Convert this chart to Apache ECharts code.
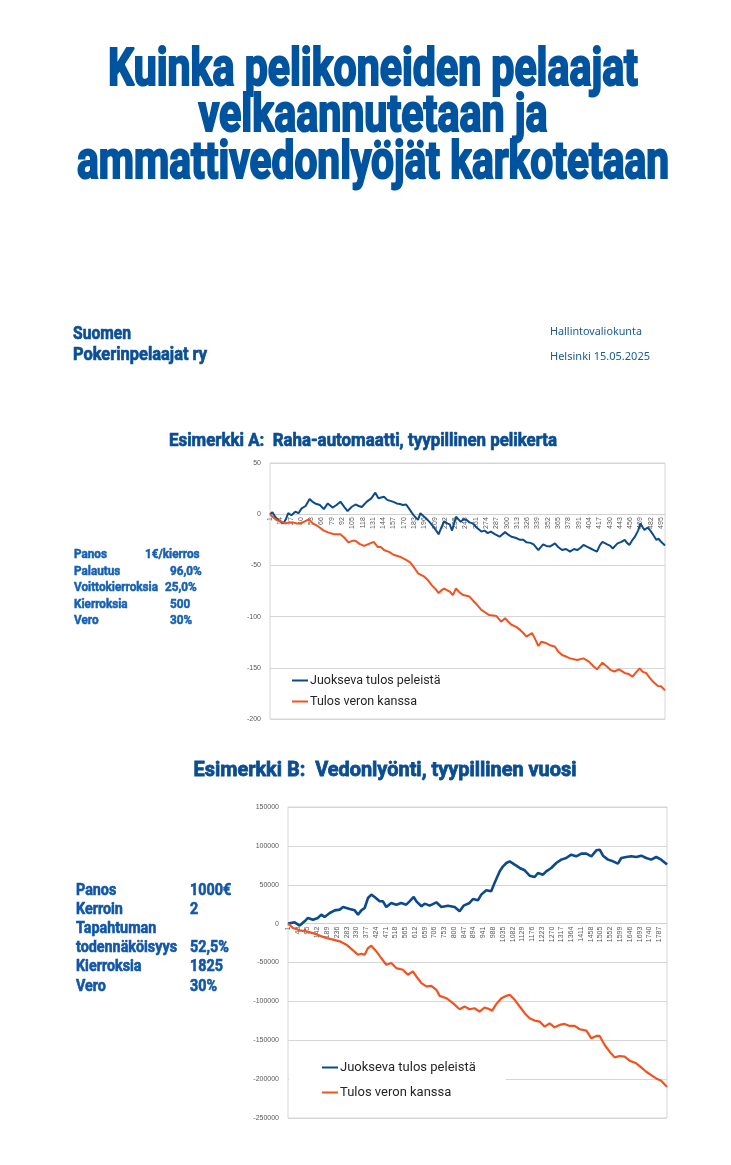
<!DOCTYPE html>
<html><head><meta charset="utf-8">
<script src="https://cdn.jsdelivr.net/npm/echarts@6/dist/echarts.min.js"></script>
<style>html,body{margin:0;padding:0;background:#fff}#c{width:731px;height:1165px}</style>
</head><body><div id="c"></div>
<script>
// ---------- DATA ----------
const titleLines = ['Kuinka pelikoneiden pelaajat', 'velkaannutetaan ja', 'ammattivedonlyöjät karkotetaan'];
const orgLines = ['Suomen', 'Pokerinpelaajat ry'];
const metaLines = ['Hallintovaliokunta', 'Helsinki 15.05.2025'];
const chartTitleA = 'Esimerkki A:  Raha-automaatti, tyypillinen pelikerta';
const chartTitleB = 'Esimerkki B:  Vedonlyönti, tyypillinen vuosi';
const paramLabelsA = ['Panos', 'Palautus', 'Voittokierroksia', 'Kierroksia', 'Vero'];
const paramValuesA = ['1€/kierros', '96,0%', '25,0%', '500', '30%'];
const paramLabelsB = ['Panos', 'Kerroin', 'Tapahtuman', 'todennäköisyys', 'Kierroksia', 'Vero'];
const paramValuesB = ['1000€', '2', '', '52,5%', '1825', '30%'];
const seriesNames = ['Juokseva tulos peleistä', 'Tulos veron kanssa'];

const roundsA = 500;
const roundsB = 1825;
const categoriesA = Array.from({length: roundsA}, (_, i) => String(i + 1));
const categoriesB = Array.from({length: roundsB}, (_, i) => String(i + 1));
const yTicksA = {min: -200, max: 50, interval: 50};
const yTicksB = {min: -250000, max: 150000, interval: 50000};

// [round, value]
const runningA = [[1,0],[4,2],[8,-3],[12,-6],[18,-9],[21,-5],[24,1],[28,-1],[33,2.5],[37,1],[41,5.7],[46,8],[51,14.8],[55,12],[58,10.5],[64,9],[69,5],[74,10.5],[80,6.5],[85,9],[90,12.2],[95,7],[99,3],[104,7],[109,9.5],[113,8],[117,7],[123,12],[129,15.5],[134,21],[138,15.5],[145,17],[149,14],[153,13],[157,12],[161,10.5],[165,10],[169,9],[173,9.5],[178,4],[182,-0.6],[188,-5.5],[191,1],[195,-2],[198,-4],[203,-8],[207,-12],[211,-16],[214,-19.6],[218,-12],[221,-7],[225,-9],[228,-10],[231,-16],[236,-2.5],[242,-7.5],[245,-5],[249,-5.5],[253,-8],[257,-9],[262,-13],[268,-17],[272,-16],[276,-18.5],[280,-17],[285,-19.5],[291,-22],[298,-17.5],[302,-20],[306,-22],[311,-23],[317,-25],[321,-25],[325,-27.5],[330,-28],[334,-29.5],[340,-35],[346,-29.5],[350,-31],[355,-31.5],[361,-28.5],[365,-32],[370,-35],[375,-34],[380,-36.5],[385,-34],[389,-35],[393,-33],[397,-30],[402,-32],[406,-33.5],[410,-35],[414,-36.5],[418,-30],[421,-27],[427,-29.5],[431,-31],[434,-33.5],[440,-28.5],[445,-27],[449,-25],[452,-28],[455,-30],[459,-25],[462,-22],[466,-16],[469,-9],[472,-13],[474,-15.5],[478,-13],[481,-15.5],[485,-20],[489,-25],[492,-24],[495,-27],[500,-30.5]];
const taxedA = [[1,0],[5,-3],[10,-6],[15,-7],[20,-9],[25,-8],[30,-8],[35,-9],[40,-9],[45,-7],[50,-5],[55,-9],[62,-12],[69,-16],[75,-18],[82,-19.5],[90,-19.5],[95,-23],[100,-27.5],[105,-26],[109,-26],[114,-29],[120,-31],[126,-29],[132,-27],[137,-32],[141,-32],[145,-35],[152,-37],[157,-39.6],[165,-41.5],[173,-44.7],[178,-47],[182,-51],[188,-57.7],[190,-56],[196,-61],[200,-64],[205,-69],[210,-73],[214,-77],[218,-74],[221,-72.6],[228,-75.5],[232,-79],[236,-72.6],[240,-76],[245,-79],[253,-80.4],[257,-84],[262,-88],[268,-93.5],[273,-96],[278,-98.5],[283,-99],[287,-99.5],[293,-105],[298,-101.6],[302,-105],[306,-108],[312,-110],[317,-113],[321,-116],[325,-119.6],[332,-116],[336,-122],[340,-128.7],[344,-124.5],[350,-126],[355,-128],[361,-129.5],[365,-134],[370,-137.5],[375,-139],[380,-140.8],[389,-142.4],[397,-140.8],[404,-144],[409,-148],[414,-151.5],[421,-145],[427,-149],[431,-152],[436,-153.6],[442,-151.5],[449,-155],[454,-156],[459,-158.7],[464,-154],[468,-150.5],[472,-154],[476,-155],[481,-160],[485,-163.6],[491,-167.8],[495,-168],[500,-172]];
const runningB = [[1,0],[6,-1300],[33,1700],[57,-2500],[81,3000],[97,7300],[121,5100],[145,7300],[161,11600],[177,8600],[202,13700],[226,17000],[250,18000],[266,21400],[298,18900],[322,17100],[338,11600],[354,17100],[370,20100],[386,33000],[402,37300],[418,34300],[442,28700],[458,28700],[474,21400],[498,26600],[522,24400],[546,26600],[570,24400],[586,28700],[606,34300],[619,28700],[643,22300],[659,25700],[683,23100],[715,27400],[739,21400],[771,23100],[803,21400],[827,15900],[846,23100],[875,26600],[891,31700],[915,30000],[931,37300],[955,42900],[979,41600],[995,52300],[1020,67300],[1036,73700],[1052,78000],[1068,80100],[1092,75800],[1116,71600],[1140,68600],[1164,61700],[1188,60000],[1204,65100],[1228,63000],[1244,67300],[1268,71600],[1292,78000],[1316,82300],[1340,84400],[1364,88700],[1388,86600],[1413,90000],[1437,90000],[1461,86600],[1485,94300],[1501,95100],[1517,87400],[1541,82300],[1565,80100],[1589,77100],[1605,84400],[1629,85700],[1653,86600],[1677,85700],[1701,87400],[1725,84400],[1749,82300],[1773,85700],[1797,82300],[1821,77100],[1825,76000]];
const taxedB = [[1,0],[25,-5600],[57,-8600],[89,-10000],[129,-12900],[153,-15400],[185,-18500],[218,-20500],[250,-22800],[282,-27100],[314,-34400],[338,-40000],[354,-38700],[370,-40000],[386,-31400],[402,-28400],[426,-35700],[450,-44300],[474,-52900],[498,-50700],[522,-57200],[554,-59300],[578,-65800],[602,-61500],[619,-68000],[643,-76600],[667,-80800],[691,-80000],[715,-85100],[731,-92900],[763,-95900],[795,-102300],[827,-110100],[851,-106600],[875,-110100],[899,-108800],[923,-113100],[947,-107900],[971,-110100],[983,-112200],[1004,-103200],[1028,-95900],[1052,-92900],[1068,-91600],[1092,-98000],[1116,-106600],[1140,-115200],[1164,-121700],[1188,-124700],[1212,-126000],[1236,-132500],[1260,-128200],[1284,-133300],[1308,-130300],[1332,-129000],[1357,-131600],[1381,-131600],[1405,-135900],[1437,-137600],[1461,-147500],[1485,-144500],[1501,-144500],[1525,-156100],[1549,-164700],[1573,-172000],[1597,-170300],[1621,-171100],[1645,-176300],[1677,-179700],[1701,-184900],[1725,-190500],[1749,-194800],[1773,-199100],[1797,-202100],[1821,-209000],[1825,-210000]];

// ---------- STYLE / LAYOUT ----------
const BLUE = '#0d4a8c', ORANGE = '#f2521f';
const HEAVY = 'Roboto, "DejaVu Sans", sans-serif';
const mctx = document.createElement('canvas').getContext('2d');
function fitScale(text, font, w) { mctx.font = font; const m = mctx.measureText(text).width; return m ? w / m : 1; }
function heavyText(text, x, y, size, opt) {
  const font = 'bold ' + size + 'px ' + HEAVY;
  const s = opt.scale != null ? opt.scale : (opt.w ? fitScale(text, font, opt.w) : 1);
  const align = opt.align || 'left';
  return { type: 'text', x: x, y: y, scaleX: s, scaleY: opt.sy || 1, z: 10,
    style: { text: text, font: font, fill: opt.color, stroke: opt.stroke ? opt.color : null, lineWidth: opt.stroke || 0,
      lineJoin: 'round', align: align, textAlign: align, verticalAlign: 'middle', textVerticalAlign: 'middle' } };
}
function plainText(text, x, y, size, w, color) {
  const font = size + 'px "Noto Sans", sans-serif';
  return { type: 'text', x: x, y: y, scaleX: fitScale(text, font, w), z: 10,
    style: { text: text, font: font, fill: color, align: 'left', textAlign: 'left', verticalAlign: 'middle', textVerticalAlign: 'middle' } };
}
const graphics = [];
const titleY = [72, 118, 165], titleW = [530, 349, 592];
titleLines.forEach((t, i) => graphics.push(heavyText(t, 373, titleY[i], 50, {w: titleW[i], align: 'center', color: '#00549f', stroke: 2, sy: 1.05})));
const orgY = [334, 355], orgW = [58, 134];
orgLines.forEach((t, i) => graphics.push(heavyText(t, 73, orgY[i], 19, {w: orgW[i], color: '#0b4f94', stroke: 0.7})));
const metaY = [332, 357], metaW = [92, 100];
metaLines.forEach((t, i) => graphics.push(plainText(t, 550, metaY[i], 11, metaW[i], '#1a5a96')));
graphics.push(heavyText(chartTitleA, 363, 441, 18.5, {w: 388, align: 'center', color: '#0b4d92', stroke: 0.7}));
graphics.push(heavyText(chartTitleB, 385, 771, 20.5, {w: 383, align: 'center', color: '#0b4d92', stroke: 0.8}));
const scaleA = fitScale(paramLabelsA[2], 'bold 12.5px ' + HEAVY, 84);
const pAY = [555, 571.5, 588, 604.5, 620.5], pAVX = [145, 170, 165, 170, 170];
paramLabelsA.forEach((t, i) => {
  graphics.push(heavyText(t, 74, pAY[i], 12.5, {scale: scaleA, color: '#1660b3', stroke: 0.5}));
  graphics.push(heavyText(paramValuesA[i], pAVX[i], pAY[i], 12.5, {scale: scaleA, color: '#1660b3', stroke: 0.5}));
});
const scaleB = fitScale(paramLabelsB[3], 'bold 16px ' + HEAVY, 101);
const pBY = [891, 910, 929, 948, 967, 987];
paramLabelsB.forEach((t, i) => {
  graphics.push(heavyText(t, 76, pBY[i], 16, {scale: scaleB, color: '#1156a8', stroke: 0.6}));
  if (paramValuesB[i]) graphics.push(heavyText(paramValuesB[i], 190, pBY[i], 16, {scale: scaleB, color: '#1156a8', stroke: 0.6}));
});

const gridA = {left: 270, top: 463, width: 395, height: 256};
const gridB = {left: 288, top: 807, width: 379, height: 311};
const axisLabelFont = {fontFamily: '"Liberation Sans", Arial, sans-serif', fontSize: 7, color: '#595959'};
// place the category axis where the value axis crosses zero
function zeroOffset(g, t) { return -g.height * (0 - t.min) / (t.max - t.min); }
function xAxisFor(gi, cats, every, off) {
  return { type: 'category', gridIndex: gi, data: cats, boundaryGap: false, position: 'bottom', offset: off,
    axisLine: {show: true, onZero: false, lineStyle: {color: '#d0d0d0', width: 1}},
    axisTick: {show: false},
    axisLabel: Object.assign({rotate: 90, interval: every - 1, margin: 3}, axisLabelFont),
    splitLine: {show: false} };
}
function yAxisFor(gi, t) {
  return { type: 'value', gridIndex: gi, min: t.min, max: t.max, interval: t.interval,
    axisLine: {show: false}, axisTick: {show: false},
    axisLabel: Object.assign({margin: 9, formatter: v => String(v)}, axisLabelFont),
    splitLine: {show: true, lineStyle: {color: '#d6d6d6', width: 1}} };
}
const toIdx = arr => arr.map(p => [p[0] - 1, p[1]]);
function lineSeries(name, gi, data, color, w) {
  return { name: name, type: 'line', xAxisIndex: gi, yAxisIndex: gi, data: toIdx(data),
    showSymbol: false, symbol: 'none', animation: false, lineStyle: {color: color, width: w}, itemStyle: {color: color} };
}

const chart = echarts.init(document.getElementById('c'), null, {renderer: 'canvas'});
chart.setOption({
  backgroundColor: '#ffffff',
  animation: false,
  grid: [
    Object.assign({show: true, borderColor: '#d6d6d6', borderWidth: 1, backgroundColor: 'transparent'}, gridA),
    Object.assign({show: true, borderColor: '#d6d6d6', borderWidth: 1, backgroundColor: 'transparent'}, gridB)
  ],
  xAxis: [xAxisFor(0, categoriesA, 13, zeroOffset(gridA, yTicksA)), xAxisFor(1, categoriesB, 47, zeroOffset(gridB, yTicksB))],
  yAxis: [yAxisFor(0, yTicksA), yAxisFor(1, yTicksB)],
  legend: [
    {data: seriesNames, orient: 'vertical', left: 288, top: 672, padding: [2, 6, 2, 4], itemGap: 8,
      icon: 'rect', itemWidth: 16, itemHeight: 2, backgroundColor: '#ffffff', selectedMode: false,
      textStyle: {fontFamily: 'Roboto, sans-serif', fontSize: 12.5, color: '#262626', padding: [0, 0, 0, -3]}},
    {data: seriesNames, orient: 'vertical', left: 289, top: 1057, padding: [4, 30, 4, 33], itemGap: 12,
      icon: 'rect', itemWidth: 16, itemHeight: 2, backgroundColor: '#ffffff', selectedMode: false,
      textStyle: {fontFamily: 'Roboto, sans-serif', fontSize: 13, color: '#262626', padding: [0, 0, 0, -3]}}
  ],
  series: [
    lineSeries(seriesNames[0], 0, runningA, BLUE, 2),
    lineSeries(seriesNames[1], 0, taxedA, ORANGE, 2),
    lineSeries(seriesNames[0], 1, runningB, BLUE, 2.6),
    lineSeries(seriesNames[1], 1, taxedB, ORANGE, 2.2)
  ],
  graphic: graphics
});
</script></body></html>
